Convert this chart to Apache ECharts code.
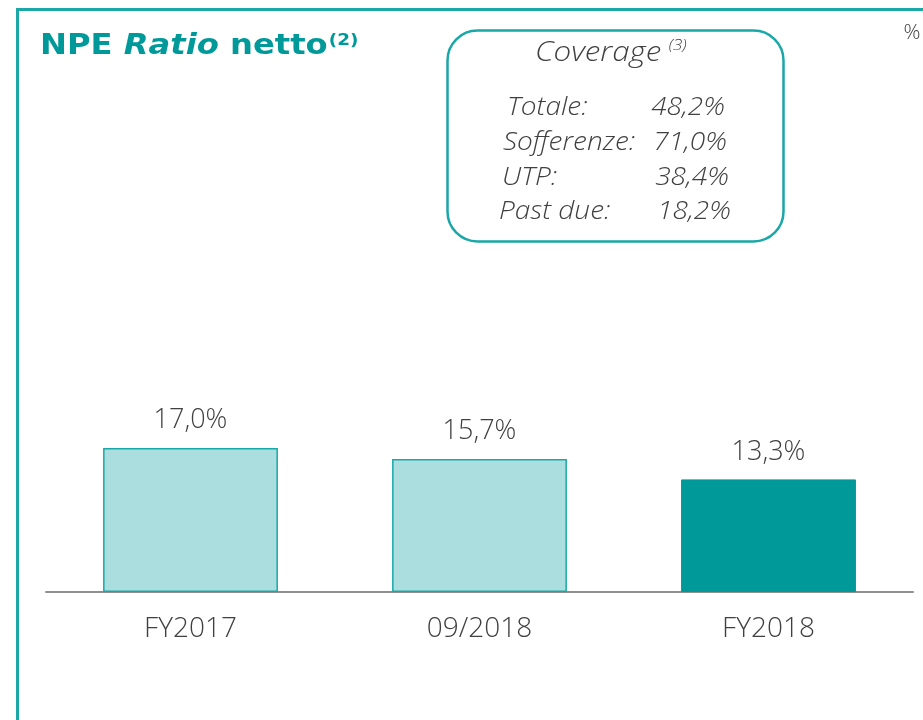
<!DOCTYPE html>
<html>
<head>
<meta charset="utf-8">
<script src="https://cdn.jsdelivr.net/npm/echarts@6/dist/echarts.min.js"></script>
<style>
html,body{margin:0;padding:0;background:#fff;}
#chart{width:923px;height:720px;}
</style>
</head>
<body>
<div id="chart"></div>
<script>
const categories = ['FY2017', '09/2018', 'FY2018'];
const values = [17.0, 15.7, 13.3];
const coverageLabels = ['Totale:', 'Sofferenze:', 'UTP:', 'Past due:'];
const coverageValues = ['48,2%', '71,0%', '38,4%', '18,2%'];

const TEAL = '#009999';
const LIGHT = '#ABDEDF';
const LIGHT_BORDER = '#1AA7A7';
const TXT = '#404040';
const FONT = '"Open Sans", "DejaVu Sans", sans-serif';
const TFONT = '"DejaVu Sans", sans-serif';

const chart = echarts.init(document.getElementById('chart'), null, {renderer: 'canvas'});

const fmt = v => v.toFixed(1).replace('.', ',') + '%';

const rowY = [108, 143, 178, 212];
const rowLabelX = [507, 503, 502, 499];
const rowValueX = [725, 727, 729, 731];

const graphics = [
  {type: 'line', shape: {x1: 17.5, y1: 9, x2: 17.5, y2: 720}, style: {stroke: LIGHT_BORDER, lineWidth: 3}},
  {type: 'line', shape: {x1: 16, y1: 9.5, x2: 923, y2: 9.5}, style: {stroke: LIGHT_BORDER, lineWidth: 3}},
  {type: 'text', x: 40, y: 47, scaleX: 1.15, style: {
    text: '{a|NPE }{b|Ratio}{a| netto}{s|(2)}',
    textVerticalAlign: 'middle',
    rich: {
      a: {fontFamily: TFONT, fontWeight: 'bold', fontSize: 28, fill: TEAL},
      b: {fontFamily: TFONT, fontWeight: 'bold', fontStyle: 'italic', fontSize: 28, fill: TEAL},
      s: {fontFamily: TFONT, fontWeight: 'bold', fontSize: 16, fill: TEAL, padding: [0, 0, 12, 1]}
    }
  }},
  {type: 'text', x: 912, y: 33, style: {text: '%', fontFamily: FONT, fontWeight: 300, fontSize: 21, fill: TXT, textAlign: 'center', textVerticalAlign: 'middle'}},
  {type: 'rect', shape: {x: 447.5, y: 30.5, width: 336, height: 211, r: 30}, style: {fill: '#fff', stroke: LIGHT_BORDER, lineWidth: 2.5}},
  {type: 'text', x: 535, y: 53, scaleX: 1.12, style: {
    text: '{c|Coverage}  {s|(3)}',
    textAlign: 'left', textVerticalAlign: 'middle',
    rich: {
      c: {fontFamily: FONT, fontStyle: 'italic', fontWeight: 300, fontSize: 28, fill: TXT},
      s: {fontFamily: FONT, fontStyle: 'italic', fontWeight: 300, fontSize: 15, fill: TXT, padding: [0, 0, 14, 0]}
    }
  }}
];

coverageLabels.forEach((lab, i) => {
  graphics.push({type: 'text', x: rowLabelX[i], y: rowY[i], scaleX: 1.12, style: {
    text: lab, fontFamily: FONT, fontStyle: 'italic', fontWeight: 300, fontSize: 25, fill: TXT,
    textAlign: 'left', textVerticalAlign: 'middle'}});
  graphics.push({type: 'text', x: rowValueX[i], y: rowY[i], scaleX: 1.12, style: {
    text: coverageValues[i], fontFamily: FONT, fontStyle: 'italic', fontWeight: 300, fontSize: 25, fill: TXT,
    textAlign: 'right', textVerticalAlign: 'middle'}});
});

chart.setOption({
  animation: false,
  backgroundColor: '#fff',
  grid: {left: 46, right: 10, top: 338, height: 254, containLabel: false},
  xAxis: {
    type: 'category',
    data: categories,
    axisLine: {show: true, lineStyle: {color: '#8f8f8f', width: 2}},
    axisTick: {show: false},
    axisLabel: {color: TXT, fontFamily: FONT, fontWeight: 300, fontSize: 28, margin: 23}
  },
  yAxis: {
    type: 'value', min: 0, max: 30, show: false,
    splitLine: {show: false}
  },
  series: [{
    type: 'bar',
    barWidth: '60.5%',
    data: values.map((v, i) => ({
      value: v,
      itemStyle: i === values.length - 1
        ? {color: TEAL, borderColor: TEAL, borderWidth: 1}
        : {color: LIGHT, borderColor: LIGHT_BORDER, borderWidth: 1.5}
    })),
    label: {
      show: true, position: 'top', distance: 14,
      formatter: p => fmt(p.value),
      color: TXT, fontFamily: FONT, fontWeight: 300, fontSize: 27
    }
  }],
  graphic: {elements: graphics}
});
</script>
</body>
</html>
